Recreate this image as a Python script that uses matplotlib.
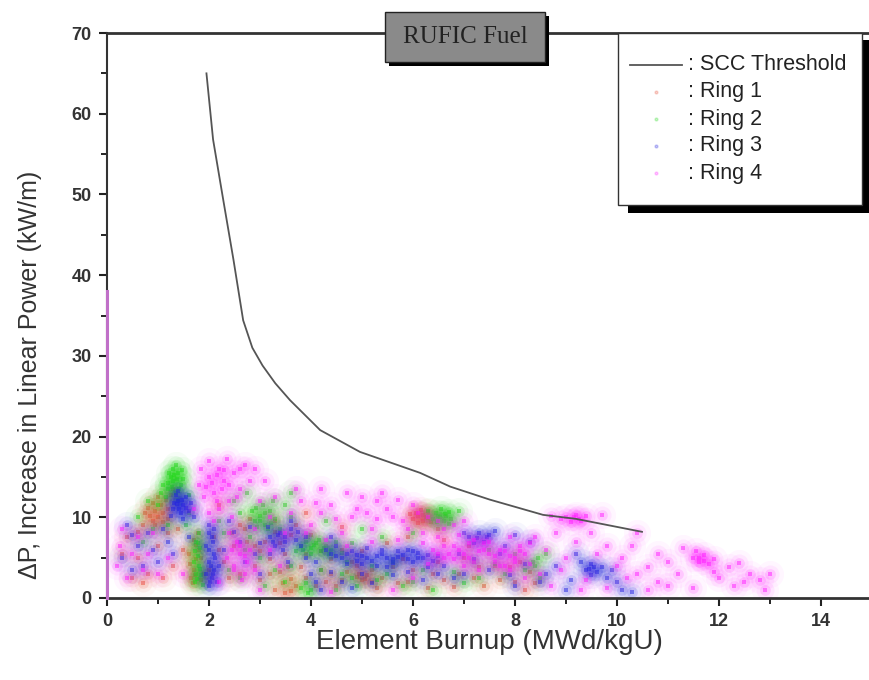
import matplotlib
matplotlib.use("Agg")
import matplotlib.pyplot as plt
from matplotlib.patches import Rectangle
from matplotlib.lines import Line2D

# ---------------- data ----------------
scc_x = [1.95, 2.08, 2.28, 2.48, 2.67, 2.85, 3.05, 3.3, 3.59, 4.18, 4.96, 6.14, 6.73, 7.5, 8.55, 9.2, 10.49]
scc_y = [65, 56.8, 49.3, 41.9, 34.4, 31.0, 28.8, 26.6, 24.5, 20.8, 18.1, 15.5, 13.8, 12.2, 10.3, 9.8, 8.2]

# (burnup, delta P) points read from the clouds
ring1_pts = [(0.85, 10.2), (0.95, 10.8), (1.05, 11.5), (0.9, 9.6), (1.15, 12.2), (1.0, 10.0), (1.2, 11.0),
             (0.8, 11.2), (1.1, 9.4), (1.25, 12.8), (0.7, 9.0), (1.3, 13.5), (0.75, 10.5), (0.9, 11.8),
             (1.1, 10.5), (1.0, 12.5), (0.95, 9.0), (1.2, 9.8),
             (1.65, 2.5), (1.7, 3.5), (1.75, 4.8), (1.8, 6.0), (1.7, 7.2), (1.85, 2.2), (1.6, 5.5),
             (1.9, 3.0), (1.78, 8.0), (1.68, 1.8), (1.73, 2.9), (1.62, 4.2), (1.85, 5.0), (1.75, 6.6),
             (2.5, 6.5), (2.7, 8.5), (2.9, 4.0), (3.1, 7.0), (3.3, 9.5), (3.5, 5.5), (2.6, 3.0), (3.0, 2.2),
             (3.2, 4.8), (2.8, 9.8), (3.4, 3.2), (3.6, 7.8), (2.3, 4.5), (2.45, 8.0), (3.0, 5.8), (3.3, 8.2),
             (2.75, 7.0), (3.55, 3.8),
             (6.1, 10.2), (6.2, 9.6), (6.3, 10.6), (6.0, 9.8), (6.25, 10.0), (6.15, 10.9), (6.35, 9.4),
             (6.05, 10.5), (6.2, 10.3), (6.1, 9.3), (5.95, 10.4), (6.3, 9.9),
             (4.9, 2.6), (5.0, 2.2), (5.1, 2.8), (4.95, 3.0), (5.05, 2.4),
             (3.3, 1.0), (3.5, 0.6), (3.7, 1.5), (3.45, 1.8), (3.6, 0.9),
             (4.2, 3.5), (4.5, 1.5), (4.8, 4.5), (5.3, 1.2), (5.6, 3.8), (5.9, 2.0), (6.4, 3.0), (6.8, 1.4),
             (7.2, 2.5), (7.6, 4.0), (8.0, 2.0), (8.3, 3.2), (4.0, 7.8), (5.5, 6.8), (6.6, 7.2), (7.0, 5.0),
             (3.9, 2.5), (4.6, 6.0), (4.3, 2.0), (4.7, 3.2), (5.2, 2.0), (5.8, 4.8), (6.6, 2.2), (7.4, 1.5),
             (7.9, 3.8), (8.2, 1.0), (4.4, 4.8), (3.8, 3.8),
             (0.4, 7.5), (0.6, 5.0), (0.8, 3.0), (1.0, 6.5), (1.3, 4.0), (0.5, 2.5), (1.2, 8.0),
             (2.2, 6.0), (2.4, 2.5), (2.6, 9.0), (2.9, 6.5), (3.2, 3.0), (3.4, 6.8), (3.7, 9.0), (3.9, 5.5),
             (4.1, 1.5), (4.4, 3.0), (4.6, 2.2), (4.9, 4.0), (5.2, 3.5), (5.4, 2.5), (5.7, 1.8), (6.0, 3.5),
             (6.3, 1.2), (6.5, 4.5), (6.9, 3.0), (7.3, 3.8), (7.7, 2.2), (8.1, 4.5), (8.4, 1.8), (5.0, 5.8),
             (4.2, 5.8), (3.6, 2.4), (2.1, 7.5), (2.0, 3.5), (1.5, 6.0), (1.4, 8.5), (0.6, 8.2), (0.3, 5.5),
             (0.7, 1.8), (1.1, 2.5), (5.9, 7.5), (6.5, 8.5), (7.1, 6.5), (4.6, 8.8), (3.9, 10.5), (2.2, 11.5)]

ring2_pts = [(1.2, 13.5), (1.3, 14.5), (1.4, 15.5), (1.35, 13.0), (1.25, 15.0), (1.45, 14.0), (1.15, 12.5),
             (1.3, 16.0), (1.4, 12.2), (1.5, 14.8), (1.2, 14.2), (1.35, 16.5), (1.05, 13.0), (1.0, 11.5),
             (1.28, 13.8), (1.38, 14.8), (1.22, 15.5), (1.42, 13.5), (1.32, 15.3), (1.48, 15.8), (1.1, 14.0),
             (1.72, 2.0), (1.75, 3.0), (1.8, 4.0), (1.78, 5.2), (1.82, 6.2), (1.75, 7.0), (1.85, 2.8),
             (1.7, 4.5), (1.88, 1.6), (1.8, 8.0), (1.77, 2.4), (1.83, 3.6), (1.73, 5.8), (1.79, 6.8),
             (2.9, 9.5), (3.0, 10.2), (3.1, 9.0), (3.2, 10.8), (2.85, 10.8), (3.05, 11.5), (3.15, 8.5),
             (2.95, 8.8), (3.3, 9.8), (3.25, 12.0), (3.0, 9.6), (3.1, 10.5), (2.92, 11.2), (3.22, 9.3),
             (3.8, 6.5), (3.9, 7.0), (4.0, 6.2), (4.1, 6.8), (4.2, 5.8), (4.3, 6.5), (4.4, 6.0), (3.7, 5.8),
             (4.5, 7.0), (4.0, 5.4), (3.95, 7.5), (4.6, 5.6), (3.85, 6.0), (4.05, 6.6), (4.25, 6.2),
             (4.15, 7.2), (4.35, 5.5),
             (6.5, 10.2), (6.6, 9.6), (6.7, 10.6), (6.4, 9.8), (6.55, 11.0), (6.75, 9.8), (6.45, 10.5),
             (6.65, 10.2), (6.52, 10.0), (6.62, 10.4), (6.48, 9.4), (6.7, 9.2),
             (3.8, 1.2), (3.95, 0.6), (3.9, 1.8), (4.0, 1.0),
             (8.35, 4.5), (8.45, 5.0), (8.4, 4.0),
             (2.2, 9.5), (2.5, 12.0), (3.5, 11.5), (2.7, 6.0), (4.8, 2.5), (5.2, 4.0), (5.8, 1.5), (6.2, 3.5),
             (7.0, 1.8), (7.5, 6.0), (5.0, 8.5), (3.0, 5.0), (0.9, 8.5), (0.6, 10.0), (7.8, 3.0), (1.6, 10.5),
             (5.5, 3.0), (4.5, 1.0), (7.2, 4.5), (8.0, 5.5), (2.4, 3.5), (3.5, 2.0),
             (2.3, 8.0), (2.6, 10.5), (2.8, 7.5), (3.4, 8.5), (3.6, 10.0), (3.3, 3.5), (2.6, 2.5), (3.1, 1.5),
             (3.6, 4.0), (4.2, 3.5), (4.6, 3.0), (4.9, 1.5), (5.3, 2.2), (5.6, 4.5), (6.0, 2.0), (6.4, 1.0),
             (6.8, 3.2), (7.3, 2.5), (7.6, 4.2), (8.2, 3.5), (8.6, 5.5), (5.4, 7.5), (6.0, 8.0), (4.8, 6.8),
             (4.7, 4.5), (1.55, 9.0), (1.6, 12.8), (0.8, 12.0), (0.7, 7.0), (1.2, 9.0), (3.6, 13.0),
             (2.75, 13.0), (4.3, 9.5), (6.9, 10.8), (6.3, 10.8), (8.5, 2.5)]

ring3_pts = [(1.3, 11.0), (1.4, 12.0), (1.5, 11.5), (1.45, 10.5), (1.35, 12.8), (1.55, 12.5), (1.6, 10.8),
             (1.25, 10.2), (1.5, 9.8), (1.4, 13.2), (1.65, 11.8), (1.7, 10.0), (1.38, 11.6), (1.48, 12.2),
             (1.42, 11.0), (1.55, 11.2), (1.32, 11.8),
             (2.0, 1.5), (2.05, 2.5), (2.1, 3.5), (2.0, 4.5), (2.1, 5.5), (1.95, 6.5), (2.05, 7.5),
             (2.15, 2.0), (1.95, 3.0), (2.1, 8.5), (2.0, 9.0), (2.2, 4.0), (2.02, 2.0), (2.08, 3.0),
             (2.03, 4.0), (2.12, 5.0), (2.0, 6.0), (2.08, 7.0), (2.0, 8.0),
             (3.2, 7.5), (3.4, 8.0), (3.5, 7.0), (3.3, 6.5), (3.6, 8.5), (3.7, 7.2), (3.15, 8.8), (3.45, 6.0),
             (3.8, 6.5), (3.35, 7.8), (3.5, 7.6), (3.25, 7.0),
             (4.4, 5.5), (4.6, 5.0), (4.8, 5.8), (5.0, 5.2), (5.2, 4.6), (5.4, 5.5), (5.6, 4.8), (5.8, 5.3),
             (6.0, 4.5), (6.2, 5.0), (6.4, 4.6), (4.7, 4.2), (5.1, 6.2), (5.5, 3.8), (5.9, 6.0), (6.3, 3.8),
             (4.5, 6.5), (5.3, 4.0), (5.7, 5.8), (6.1, 5.6), (4.9, 4.6), (6.5, 5.2), (4.5, 5.2), (4.7, 5.5),
             (4.9, 5.3), (5.1, 5.0), (5.3, 5.2), (5.5, 4.9), (5.7, 5.1), (5.9, 4.8), (6.1, 4.9), (6.3, 5.3),
             (5.0, 4.2), (5.6, 4.3), (4.3, 6.0), (6.0, 5.8), (5.4, 6.0),
             (7.1, 7.5), (7.3, 8.0), (7.4, 7.0), (7.5, 7.8), (7.2, 6.8), (7.6, 8.3), (7.25, 7.4), (7.45, 7.6),
             (9.4, 3.5), (9.5, 4.2), (9.6, 3.2), (9.5, 2.8), (9.7, 3.8), (9.3, 4.5), (9.45, 3.6), (9.55, 3.9),
             (0.6, 6.5), (0.8, 8.0), (1.0, 4.5), (0.4, 9.0), (1.2, 7.0), (2.6, 7.0), (2.9, 5.5), (4.0, 3.0),
             (4.2, 1.0), (6.8, 2.5), (7.5, 3.5), (8.0, 1.5), (8.6, 3.0), (9.0, 1.0), (10.0, 2.0), (10.3, 0.8),
             (8.3, 7.0), (2.4, 9.5), (7.8, 6.5), (4.8, 1.2), (3.0, 6.8), (3.9, 5.0), (4.1, 4.5), (6.6, 4.0),
             (7.0, 3.0), (8.5, 2.0), (9.8, 2.5),
             (0.3, 5.0), (0.5, 7.8), (0.7, 4.0), (0.9, 6.0), (1.1, 8.5), (0.5, 3.5), (1.3, 5.5), (1.6, 7.5),
             (2.3, 6.0), (2.5, 8.2), (2.7, 4.5), (2.8, 8.8), (3.0, 3.0), (3.2, 5.5), (3.55, 4.5), (3.75, 8.2),
             (3.9, 7.5), (4.1, 2.0), (4.4, 3.2), (4.6, 2.0), (5.0, 3.0), (5.2, 1.8), (5.6, 2.8), (5.9, 3.2),
             (6.2, 2.2), (6.5, 3.0), (6.9, 5.5), (7.2, 4.8), (7.7, 5.5), (7.9, 2.8), (8.2, 4.2), (8.8, 4.0),
             (9.1, 2.2), (9.9, 3.5), (10.1, 1.0), (4.4, 7.5), (3.6, 9.5), (7.0, 8.0), (8.0, 7.8), (9.2, 5.5)]

ring4_pts = [(1.8, 14.0), (2.0, 15.0), (2.2, 16.0), (2.1, 13.0), (2.3, 14.5), (2.4, 12.0), (1.9, 12.5),
             (2.5, 15.5), (2.0, 17.0), (2.6, 13.5), (2.2, 11.0), (2.45, 10.0), (1.85, 16.0), (2.35, 17.2),
             (2.7, 16.5), (2.1, 9.5), (2.05, 14.2), (2.15, 15.2), (2.25, 13.5), (2.3, 15.8), (1.95, 13.8),
             (2.4, 14.0), (2.55, 12.5), (2.15, 12.0), (2.6, 16.0), (2.8, 14.5),
             (2.5, 4.0), (2.6, 5.5), (2.7, 3.0), (2.55, 7.0), (2.8, 6.0), (2.4, 8.0), (2.65, 2.2), (2.75, 4.5),
             (2.35, 5.0), (2.9, 8.5), (2.5, 3.5), (2.6, 6.5), (2.7, 5.2), (2.45, 6.0),
             (3.6, 10.5), (4.0, 9.0), (4.4, 11.5), (4.8, 10.0), (5.2, 8.5), (5.5, 11.0), (5.8, 9.5), (6.2, 8.0),
             (4.6, 8.0), (5.0, 12.5), (3.8, 12.0), (4.2, 13.5), (5.4, 13.0), (6.0, 11.5), (6.6, 8.5), (3.3, 12.5),
             (4.2, 10.5), (4.9, 11.0), (5.6, 10.0), (6.3, 10.0), (3.9, 8.0), (5.3, 9.8),
             (6.4, 6.0), (6.6, 5.0), (6.8, 6.5), (7.0, 5.5), (7.2, 4.5), (7.4, 6.0), (7.6, 5.2), (7.8, 5.8),
             (8.0, 5.0), (8.2, 5.5), (6.5, 7.5), (6.9, 7.8), (7.3, 3.5), (7.7, 4.0), (8.1, 6.5), (6.3, 4.2),
             (7.5, 7.0), (7.9, 3.5), (7.1, 6.8), (8.3, 4.2), (6.7, 5.5), (6.9, 6.0), (7.1, 5.0), (7.3, 5.8),
             (7.5, 5.5), (7.7, 6.0), (7.9, 5.2), (8.1, 5.8), (6.6, 6.5), (7.0, 4.0), (7.6, 4.5), (8.0, 4.5),
             (6.8, 4.8), (7.4, 6.8), (6.5, 5.5), (7.2, 7.2),
             (9.0, 10.0), (9.2, 10.3), (9.3, 9.6), (9.1, 9.4), (9.4, 10.1), (8.9, 9.8), (9.15, 10.0), (9.25, 9.8),
             (8.6, 6.0), (8.9, 3.5), (9.2, 7.0), (9.6, 5.5), (10.0, 4.0), (10.3, 6.5), (8.7, 1.5), (9.8, 1.2),
             (10.2, 2.5), (9.0, 5.0), (8.4, 7.5), (9.4, 2.2),
             (11.5, 5.0), (11.6, 4.5), (11.7, 5.3), (11.8, 4.2), (11.55, 5.8), (11.9, 4.8), (11.6, 5.0),
             (11.7, 4.6),
             (10.8, 2.0), (11.2, 3.0), (11.5, 1.2), (12.0, 2.5), (12.3, 1.5), (12.6, 3.0), (12.9, 1.0),
             (10.6, 3.8), (12.2, 3.8), (10.6, 1.0), (11.0, 4.5), (12.5, 2.0),
             (0.2, 4.0), (0.4, 2.5), (0.6, 7.5), (0.8, 5.5), (0.3, 8.5), (1.0, 3.0),
             (3.0, 1.0), (4.4, 0.8), (5.6, 1.0), (6.0, 2.5), (3.4, 4.0),
             (3.5, 8.0), (3.7, 13.5), (4.1, 11.8), (4.5, 9.8), (4.7, 13.0), (5.1, 10.5), (5.3, 12.0),
             (5.7, 12.2), (5.9, 8.5), (6.1, 10.5), (6.5, 9.5), (6.8, 9.0), (7.0, 9.5), (4.3, 7.2), (4.7, 6.5),
             (5.2, 7.0), (5.7, 7.2), (3.2, 10.0), (3.0, 12.0), (2.9, 16.0), (3.1, 14.5), (2.0, 10.5),
             (1.7, 11.0), (0.5, 5.5), (0.7, 3.5), (0.9, 8.0), (0.25, 6.5), (1.2, 5.0), (1.5, 3.0), (2.2, 2.0),
             (2.9, 3.5), (3.2, 6.0), (8.5, 3.0), (8.8, 8.0), (9.5, 8.0), (9.8, 6.5), (10.1, 5.0), (10.4, 3.0),
             (9.3, 1.0), (10.8, 5.5), (11.3, 6.2), (11.0, 1.5), (11.9, 3.2), (12.4, 4.3), (12.8, 2.2),
             (13.0, 3.0), (10.4, 8.0), (9.7, 10.3), (8.7, 10.2), (7.9, 7.5), (8.3, 6.8), (6.2, 6.8), (7.8, 4.0),
             (8.2, 2.5)]

# ring 4 points lying on the burnup = 0 axis
ring4_axis_x = [0, 0]
ring4_axis_y = [0, 38]

x_ticks = [0, 2, 4, 6, 8, 10, 12, 14]
y_ticks = [0, 10, 20, 30, 40, 50, 60, 70]

rings = [("Ring 1", ring1_pts, "#e8503a"),
         ("Ring 2", ring2_pts, "#22d81a"),
         ("Ring 3", ring3_pts, "#2424e0"),
         ("Ring 4", ring4_pts, "#ff1cff")]

# ---------------- figure ----------------
W, H = 870, 680
fig = plt.figure(figsize=(W / 100, H / 100), dpi=100)
plt.rcParams['font.family'] = ['Liberation Sans', 'DejaVu Sans']

L, R, T, B = 107, 872, 33, 598
ax = fig.add_axes([L / W, 1 - B / H, (R - L) / W, (B - T) / H])
ax.set_xlim(0, 15)
ax.set_ylim(0, 70)

for name, pts, col in rings:
    xs = [p[0] for p in pts]
    ys = [p[1] for p in pts]
    ax.scatter(xs, ys, s=380, color=col, alpha=0.04, linewidths=0, zorder=2)
    ax.scatter(xs, ys, s=170, color=col, alpha=0.07, linewidths=0, zorder=2)
    ax.scatter(xs, ys, s=60, color=col, alpha=0.15, linewidths=0, zorder=2)
    ax.scatter(xs, ys, s=6, color=col, alpha=0.5, linewidths=0, marker='s', zorder=2)

ax.plot(ring4_axis_x, ring4_axis_y, color="#c070c8", lw=2.2, clip_on=False, zorder=5)
ax.plot(scc_x, scc_y, color="#555555", lw=1.3, zorder=4)

ax.set_xticks(x_ticks)
ax.set_yticks(y_ticks)
ax.set_xticks([1, 3, 5, 7, 9, 11, 13], minor=True)
ax.set_yticks([5, 15, 25, 35, 45, 55, 65], minor=True)
ax.tick_params(which='major', direction='out', length=6, width=1.5, labelsize=13, pad=5, colors='#222222')
ax.tick_params(which='minor', direction='out', length=4, width=1.2)
for lab in ax.get_xticklabels() + ax.get_yticklabels():
    lab.set_fontweight('bold')
    lab.set_color('#333333')

ax.spines['right'].set_visible(False)
ax.spines['top'].set_linewidth(2.0)
ax.spines['bottom'].set_linewidth(2.0)
ax.spines['left'].set_linewidth(1.5)
for s in ax.spines.values():
    s.set_color('#333333')

ax.set_xlabel("Element Burnup (MWd/kgU)", fontsize=20, color='#333333', labelpad=-1)
ax.set_ylabel("ΔP, Increase in Linear Power (kW/m)", fontsize=18, color='#333333')
ax.yaxis.set_label_coords((42 - L) / (R - L), (B - 375) / (B - T))

def fx(px):
    return px / W

def fy(py):
    return 1 - py / H

# title box with shadow
fig.add_artist(Rectangle((fx(389), fy(66)), (545 - 385) / W, (62 - 12) / H,
                         transform=fig.transFigure, facecolor='black', edgecolor='none', zorder=10))
fig.add_artist(Rectangle((fx(385), fy(62)), (545 - 385) / W, (62 - 12) / H,
                         transform=fig.transFigure, facecolor='#8a8a8a', edgecolor='#222222',
                         lw=1.0, zorder=11))
fig.text(fx(465), fy(37), "RUFIC Fuel", family=['Liberation Serif', 'DejaVu Serif'],
         fontsize=18, color='#222222', ha='center', va='center', zorder=12)

# legend box with shadow
fig.add_artist(Rectangle((fx(628), fy(213)), (870 - 628) / W, (213 - 40) / H,
                         transform=fig.transFigure, facecolor='black', edgecolor='none', zorder=10))
fig.add_artist(Rectangle((fx(618), fy(205)), (862 - 618) / W, (205 - 33) / H,
                         transform=fig.transFigure, facecolor='white', edgecolor='#333333',
                         lw=1.0, zorder=11))
rows = [65, 92, 119, 146, 173]
fig.add_artist(Line2D([fx(630), fx(682)], [fy(rows[0]), fy(rows[0])], transform=fig.transFigure,
                      color='#555555', lw=1.3, zorder=12))
fig.text(fx(688), fy(rows[0]), ": SCC Threshold", fontsize=15.5, color='#222222',
         va='center', ha='left', zorder=12)
for (name, pts, col), r in zip(rings, rows[1:]):
    fig.add_artist(Line2D([fx(656)], [fy(r)], transform=fig.transFigure, marker='o',
                          markersize=2, color=col, alpha=0.25, lw=0, zorder=12))
    fig.text(fx(688), fy(r), ": " + name, fontsize=15.5, color='#222222',
             va='center', ha='left', zorder=12)

fig.savefig("out.png", dpi=100, facecolor='white')
